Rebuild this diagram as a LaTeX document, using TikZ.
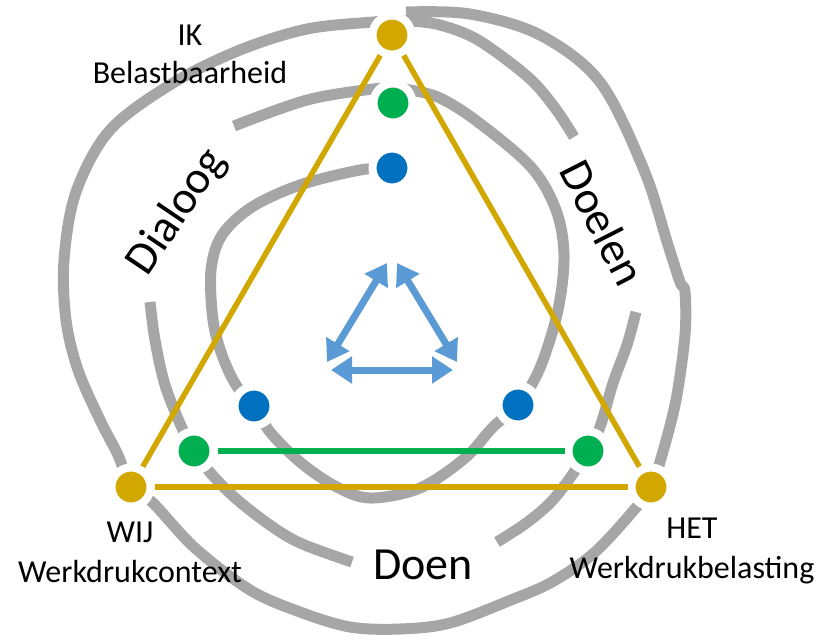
\documentclass[tikz,border=0pt]{standalone}
\usepackage{fontspec}
\setmainfont{Carlito}
\usetikzlibrary{arrows.meta}
\definecolor{spiralgray}{HTML}{A6A6A6}
\definecolor{goldline}{HTML}{D2A800}
\definecolor{dgreen}{HTML}{00B050}
\definecolor{dblue}{HTML}{0070C0}
\definecolor{lblue}{HTML}{5B9BD5}
\begin{document}
\begin{tikzpicture}[x=1pt,y=-1pt,
  spiral/.style={draw=spiralgray, line width=11pt, line cap=butt, line join=round},
  dot/.style={circle, draw=white, line width=8pt, minimum size=39pt, inner sep=0pt},
  golddot/.style={dot, fill=goldline},
  greendot/.style={dot, fill=dgreen},
  bluedot/.style={dot, fill=dblue},
  goldedge/.style={draw=goldline, line width=5.5pt},
  greenedge/.style={draw=dgreen, line width=5.5pt},
  barrow/.style={draw=lblue, line width=7pt, {Triangle[length=21pt,width=26pt]}-{Triangle[length=21pt,width=26pt]}},
  lbl/.style={font=\fontsize{32}{38}\selectfont, inner sep=0pt, anchor=base},
  biglbl/.style={font=\fontsize{46}{52}\selectfont, inner sep=0pt}
]
\useasboundingbox (0,0) rectangle (822,640);

% grey spiral, in four pieces (gaps for the labels)
\draw[spiral] plot[smooth, tension=0.55] coordinates {
 (392,168) (360,170) (300,185) (252,207) (222,235) (211,270) (213,320)
 (222,355) (236,385) (254,406) (270,432) (300,462) (335,486) (370,498)
 (420,488) (465,458) (493,427) (518,405) (540,368) (558,310) (564,255)
 (556,210) (531,167) (478,122) (440,98) (410,90) (392,89)
 (373,89) (307,100) (234,126)};
\draw[spiral] plot[smooth, tension=0.55] coordinates {
 (150,302) (155,340) (165,385) (182,428) (194,450) (208,470) (233,496)
 (267,523) (300,543) (352,562)};
\draw[spiral] plot[smooth, tension=0.55] coordinates {
 (497,542) (525,524) (550,503) (570,478) (588,450) (600,427) (613,383)
 (627,345) (636,312)};
\draw[spiral] plot[smooth, tension=0.55] coordinates {
 (574,137) (555,108) (528,77) (478,40) (440,25) (410,21) (392,21)
 (373,22) (307,29) (240,50) (173,83) (110,130) (76,192) (64,260)
 (66,320) (78,370) (100,420) (118,455) (131,487) (153,503) (195,548)
 (250,590) (300,612) (350,627) (400,629) (450,623) (511,600) (552,582)
 (594,553) (634,510) (651,487) (662,455) (676,400) (685,335) (685,292)
 (680,282) (668,245) (644,170) (600,82) (540,35) (470,14) (406,12)};

% dots
\node[golddot]  (ik)   at (392,35)  {};
\node[golddot]  (wij)  at (131,487) {};
\node[golddot]  (het)  at (651,487) {};
\node[greendot] (gtop) at (393,103) {};
\node[greendot] (gl)   at (194,451) {};
\node[greendot] (gr)   at (588,451) {};
\node[bluedot]  (btop) at (392,168) {};
\node[bluedot]  (bl)   at (254,406) {};
\node[bluedot]  (br)   at (518,405) {};

% triangle and green link
\draw[goldedge] (ik) -- (wij);
\draw[goldedge] (ik) -- (het);
\draw[goldedge] (wij) -- (het);
\draw[greenedge] (gl) -- (gr);

% central arrows
\coordinate (at1) at (387,263);
\coordinate (al1) at (327,362);
\coordinate (at2) at (397,263);
\coordinate (ar2) at (457,362);
\coordinate (al3) at (331,370);
\coordinate (ar3) at (453,370);
\draw[barrow] (at1) -- (al1);
\draw[barrow] (at2) -- (ar2);
\draw[barrow] (al3) -- (ar3);

% labels
\node[lbl] (t1) at (190,45) {IK};
\node[lbl] (t2) at (190,83) {Belastbaarheid};
\node[lbl] (t3) at (130,542) {WIJ};
\node[lbl] (t4) at (130,582) {Werkdrukcontext};
\node[lbl] (t5) at (692,538) {HET};
\node[lbl] (t6) at (692,578) {Werkdrukbelasting};
\node[biglbl] (doen) at (423,565) {Doen};
\node[biglbl, rotate=56] (dialoog) at (177,212) {Dialoog};
\node[biglbl, rotate=-63] (doelen) at (603,223) {Doelen};
\end{tikzpicture}
\end{document}
